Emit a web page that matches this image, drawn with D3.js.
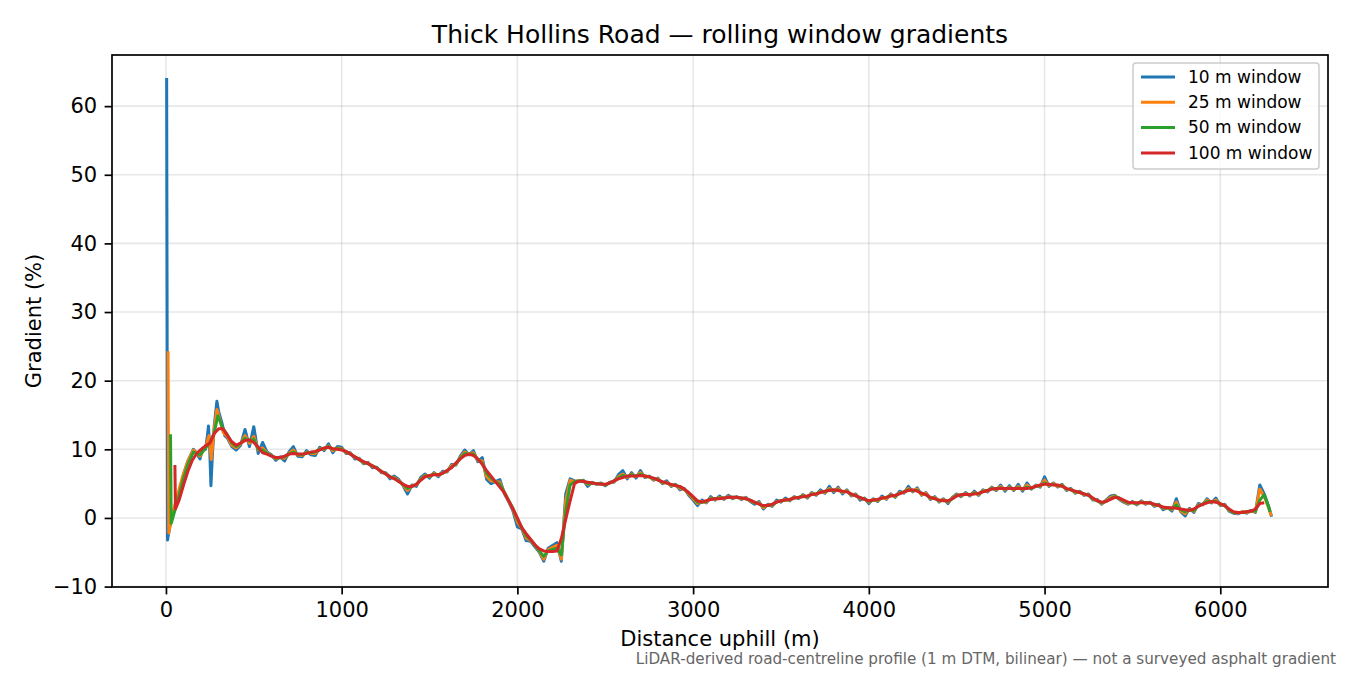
<!DOCTYPE html>
<html>
<head>
<meta charset="utf-8">
<script src="https://cdn.jsdelivr.net/npm/d3@7"></script>
<style>
  body { margin: 0; background: #fff; }
  svg { font-family: "DejaVu Sans", sans-serif; }
</style>
</head>
<body>
<div id="chart"></div>
<script>
// Series labels and colours
const seriesNames = ["10 m window", "25 m window", "50 m window", "100 m window"];
const seriesColors = ["#1f77b4", "#ff7f0e", "#2ca02c", "#d62728"];

// Axis ticks
const xTicks = [0, 1000, 2000, 3000, 4000, 5000, 6000];
const yTicks = [-10, 0, 10, 20, 30, 40, 50, 60];

// Irregular lead-in points near the bottom of the climb [distance, gradient]
const lead10 = [[4, 64.1], [9, -3.2], [20, -1.5], [35, 0.5], [60, 2.3], [80, 4.2], [99, 6.2], [125, 8.3], [156, 10.0], [170, 9.6], [194, 8.6], [210, 10.2], [225, 10.0], [235, 11.8], [242, 13.4], [249, 10.0], [256, 4.7], [265, 9.5], [275, 13.5], [290, 17.0], [300, 15.5], [319, 13.8], [335, 12.0]];
const lead25 = [[12, 24.3], [16, -2.2], [35, 0.3], [60, 2.8], [99, 6.4], [125, 8.3], [156, 9.9], [194, 9.0], [225, 10.3], [245, 12.0], [258, 8.5], [275, 13.0], [290, 15.8], [305, 14.5], [325, 12.5]];
const lead50 = [[26, 12.2], [30, -0.8], [50, 1.0], [75, 3.3], [100, 5.8], [125, 7.8], [156, 9.6], [194, 9.2], [225, 10.2], [250, 11.0], [275, 12.4], [295, 14.9], [325, 13.0]];
const lead100 = [[51, 7.7], [54, 1.3], [75, 2.6], [100, 4.8], [125, 6.8], [150, 8.4], [175, 9.4], [200, 10.0], [225, 10.5], [250, 10.9], [275, 12.3], [300, 13.0], [325, 13.0]];

// Main profile sampled every 25 m from 350 m
const bodyDistance = d3.range(350, 6276, 25);

const grad10 = [
  11.6, 10.4, 9.9, 10.6, 12.9, 10.4, 13.3, 9.4, 11.0, 9.6,
  9.2, 8.4, 8.9, 8.3, 9.6, 10.4, 9.0, 8.9, 9.8, 9.2,
  9.1, 10.3, 9.8, 10.8, 9.5, 10.4, 10.3, 9.4, 9.5, 8.6,
  8.7, 7.9, 8.1, 7.3, 7.4, 6.6, 6.6, 5.7, 6.1, 5.6,
  4.7, 3.5, 4.8, 4.6, 5.9, 6.4, 5.8, 6.6, 6.0, 6.8,
  6.7, 7.8, 7.7, 9.0, 9.9, 9.2, 9.8, 8.2, 8.8, 5.6,
  5.0, 5.3, 5.6, 3.6, 2.4, 1.0, -1.3, -1.6, -3.3, -3.4,
  -4.2, -5.0, -6.3, -4.4, -4.0, -3.6, -6.3, 3.5, 5.7, 5.4,
  5.3, 5.5, 4.6, 5.2, 4.9, 5.1, 4.7, 5.2, 5.2, 6.3,
  6.9, 5.7, 6.6, 5.8, 6.9, 5.9, 6.1, 5.5, 5.8, 5.0,
  5.4, 4.6, 4.9, 4.1, 4.3, 3.3, 2.6, 1.8, 2.6, 2.2,
  3.1, 2.6, 3.2, 2.7, 3.3, 2.8, 3.1, 2.7, 3.0, 2.4,
  2.0, 2.4, 1.3, 2.0, 1.7, 2.6, 2.3, 2.9, 2.5, 3.1,
  2.8, 3.4, 2.9, 3.7, 3.3, 4.1, 3.6, 4.6, 3.7, 4.5,
  3.5, 4.1, 3.2, 3.5, 2.6, 2.9, 2.1, 2.8, 2.4, 3.2,
  2.7, 3.5, 3.0, 3.9, 3.6, 4.6, 3.8, 4.4, 3.3, 3.7,
  2.7, 3.1, 2.3, 2.8, 2.1, 3.0, 3.5, 3.1, 3.7, 3.2,
  3.9, 3.3, 4.1, 3.8, 4.5, 4.0, 4.8, 3.9, 4.7, 4.0,
  4.9, 3.9, 5.1, 4.2, 4.8, 4.5, 6.0, 4.6, 5.1, 4.5,
  4.9, 4.0, 4.3, 3.6, 3.9, 3.3, 3.5, 2.6, 2.7, 2.0,
  2.6, 3.2, 3.3, 2.7, 2.3, 2.0, 2.4, 1.9, 2.5, 2.0,
  2.3, 1.7, 2.0, 1.2, 1.5, 1.0, 2.8, 0.9, 0.3, 1.4,
  0.8, 2.1, 1.9, 2.8, 2.2, 2.9, 1.8, 2.0, 1.0, 0.7,
  0.6, 0.9, 0.7, 1.1, 0.8, 4.8, 3.5, 1.7
];

const grad25 = [
  11.8, 10.6, 10.2, 10.8, 12.0, 10.9, 11.9, 9.9, 10.2, 9.5,
  9.1, 8.6, 8.8, 8.7, 9.4, 9.9, 9.2, 9.1, 9.6, 9.4,
  9.4, 10.1, 10.0, 10.5, 9.8, 10.2, 10.1, 9.5, 9.4, 8.8,
  8.6, 8.0, 8.0, 7.5, 7.3, 6.7, 6.5, 5.9, 5.9, 5.4,
  4.8, 4.0, 4.7, 4.8, 5.7, 6.2, 6.0, 6.5, 6.2, 6.6,
  6.8, 7.6, 7.8, 8.8, 9.6, 9.3, 9.5, 8.4, 8.3, 6.0,
  5.4, 5.3, 5.2, 3.7, 2.5, 1.2, -0.6, -1.5, -2.9, -3.3,
  -4.0, -4.9, -6.0, -4.6, -4.3, -4.0, -6.0, 2.5, 5.5, 5.3,
  5.4, 5.4, 4.9, 5.1, 5.0, 5.0, 4.8, 5.1, 5.3, 6.0,
  6.4, 5.9, 6.4, 6.0, 6.6, 6.0, 6.0, 5.6, 5.7, 5.1,
  5.2, 4.7, 4.8, 4.3, 4.2, 3.5, 2.8, 2.1, 2.4, 2.3,
  2.9, 2.7, 3.0, 2.8, 3.1, 2.9, 3.0, 2.8, 2.9, 2.5,
  2.2, 2.2, 1.5, 1.9, 1.8, 2.4, 2.4, 2.7, 2.6, 3.0,
  2.9, 3.3, 3.0, 3.6, 3.4, 3.9, 3.7, 4.3, 3.9, 4.3,
  3.7, 4.0, 3.3, 3.4, 2.8, 2.8, 2.3, 2.7, 2.5, 3.0,
  2.8, 3.4, 3.1, 3.7, 3.7, 4.3, 3.9, 4.2, 3.4, 3.6,
  2.8, 3.0, 2.4, 2.7, 2.3, 2.9, 3.4, 3.2, 3.6, 3.3,
  3.7, 3.4, 4.0, 3.9, 4.4, 4.1, 4.6, 4.1, 4.5, 4.1,
  4.6, 4.1, 4.8, 4.3, 4.7, 4.6, 5.5, 4.7, 5.0, 4.6,
  4.8, 4.1, 4.2, 3.7, 3.8, 3.4, 3.4, 2.7, 2.6, 2.1,
  2.5, 3.0, 3.2, 2.8, 2.4, 2.1, 2.3, 2.0, 2.4, 2.1,
  2.2, 1.8, 1.9, 1.4, 1.5, 1.2, 2.3, 1.0, 0.6, 1.3,
  1.0, 1.9, 2.0, 2.6, 2.3, 2.6, 1.9, 1.9, 1.1, 0.8,
  0.7, 0.9, 0.8, 1.0, 0.9, 4.2, 3.1, 1.5
];

const grad50 = [
  12.1, 10.9, 10.4, 10.9, 11.6, 11.2, 11.5, 10.0, 9.9, 9.4,
  9.1, 8.7, 8.8, 8.9, 9.3, 9.6, 9.3, 9.2, 9.5, 9.5,
  9.6, 10.0, 10.1, 10.4, 10.0, 10.1, 10.0, 9.6, 9.3, 8.9,
  8.5, 8.1, 7.9, 7.6, 7.3, 6.8, 6.5, 6.0, 5.8, 5.3,
  4.9, 4.3, 4.6, 4.9, 5.6, 6.1, 6.1, 6.4, 6.3, 6.5,
  6.9, 7.4, 7.9, 8.7, 9.4, 9.3, 9.3, 8.5, 8.0, 6.5,
  5.8, 5.3, 4.9, 3.8, 2.6, 1.4, -0.2, -1.4, -2.6, -3.2,
  -4.0, -4.8, -5.6, -4.8, -4.6, -4.4, -5.4, 1.0, 4.8, 5.3,
  5.4, 5.4, 5.0, 5.1, 5.0, 5.0, 4.8, 5.1, 5.4, 5.8,
  6.2, 6.0, 6.3, 6.1, 6.4, 6.1, 6.0, 5.7, 5.6, 5.2,
  5.1, 4.8, 4.8, 4.5, 4.2, 3.6, 3.0, 2.3, 2.3, 2.4,
  2.8, 2.8, 2.9, 2.9, 3.0, 3.0, 3.0, 2.9, 2.8, 2.6,
  2.2, 2.1, 1.7, 1.8, 1.9, 2.3, 2.5, 2.6, 2.7, 2.9,
  3.0, 3.2, 3.1, 3.5, 3.5, 3.8, 3.8, 4.1, 4.0, 4.1,
  3.8, 3.9, 3.4, 3.3, 2.9, 2.8, 2.4, 2.6, 2.6, 2.9,
  3.0, 3.3, 3.2, 3.6, 3.8, 4.1, 4.0, 4.0, 3.6, 3.4,
  2.9, 2.9, 2.5, 2.6, 2.4, 2.8, 3.3, 3.3, 3.5, 3.4,
  3.6, 3.5, 3.9, 4.0, 4.3, 4.2, 4.4, 4.2, 4.4, 4.2,
  4.4, 4.2, 4.5, 4.3, 4.6, 4.7, 5.1, 4.8, 4.9, 4.7,
  4.7, 4.2, 4.1, 3.8, 3.7, 3.5, 3.3, 2.8, 2.5, 2.2,
  2.4, 2.8, 3.1, 2.9, 2.5, 2.2, 2.2, 2.1, 2.3, 2.2,
  2.2, 1.9, 1.9, 1.5, 1.5, 1.3, 1.9, 1.2, 0.9, 1.2,
  1.1, 1.8, 2.0, 2.4, 2.4, 2.4, 2.0, 1.8, 1.2, 0.8,
  0.8, 0.8, 0.9, 1.0, 1.0, 2.6, 3.4, 1.6
];

const grad100 = [
  12.0, 11.1, 10.6, 10.9, 11.3, 11.4, 11.0, 10.3, 9.5, 9.3,
  9.0, 8.8, 8.8, 9.0, 9.3, 9.4, 9.3, 9.3, 9.4, 9.6,
  9.7, 9.9, 10.2, 10.3, 10.1, 10.0, 9.9, 9.7, 9.3, 8.9,
  8.5, 8.2, 7.9, 7.6, 7.2, 6.8, 6.4, 6.0, 5.7, 5.3,
  4.9, 4.6, 4.6, 4.9, 5.5, 6.0, 6.2, 6.3, 6.3, 6.5,
  6.9, 7.3, 8.0, 8.6, 9.1, 9.3, 9.1, 8.6, 7.8, 6.9,
  6.1, 5.3, 4.5, 3.7, 2.5, 1.3, 0.0, -1.4, -2.3, -3.1,
  -3.9, -4.5, -4.8, -4.9, -4.9, -4.8, -3.0, -0.2, 2.5, 5.0,
  5.4, 5.3, 5.2, 5.1, 5.0, 4.9, 4.9, 5.1, 5.4, 5.7,
  5.9, 6.1, 6.1, 6.1, 6.2, 6.1, 6.0, 5.8, 5.5, 5.3,
  5.1, 4.9, 4.7, 4.6, 4.2, 3.7, 3.1, 2.5, 2.3, 2.5,
  2.7, 2.8, 2.8, 2.9, 3.0, 3.0, 3.0, 2.9, 2.8, 2.6,
  2.3, 2.0, 1.8, 1.8, 2.0, 2.3, 2.5, 2.6, 2.7, 2.9,
  3.0, 3.1, 3.2, 3.4, 3.5, 3.7, 3.9, 4.0, 4.1, 4.0,
  3.9, 3.8, 3.5, 3.2, 3.0, 2.7, 2.5, 2.6, 2.7, 2.9,
  3.0, 3.2, 3.3, 3.5, 3.8, 4.0, 4.1, 3.9, 3.6, 3.4,
  3.0, 2.8, 2.6, 2.5, 2.5, 2.8, 3.2, 3.4, 3.4, 3.4,
  3.5, 3.6, 3.8, 4.0, 4.2, 4.3, 4.3, 4.3, 4.3, 4.3,
  4.3, 4.3, 4.3, 4.4, 4.6, 4.8, 4.9, 4.9, 4.8, 4.8,
  4.6, 4.3, 4.1, 3.9, 3.7, 3.5, 3.3, 2.9, 2.5, 2.3,
  2.4, 2.7, 3.0, 2.9, 2.6, 2.3, 2.2, 2.2, 2.2, 2.2,
  2.2, 2.0, 1.8, 1.6, 1.5, 1.5, 1.4, 1.3, 1.2, 1.1,
  1.3, 1.7, 2.0, 2.2, 2.4, 2.3, 2.1, 1.8, 1.3, 0.9,
  0.8, 0.8, 0.9, 1.0, 1.3, 2.1, 2.2
];

// Last points at the top of the climb
const tail10 = [[6292, 0.2]];
const tail25 = [[6290, 0.3]];
const tail50 = [[6283, 0.9]];
const tail100 = [];

const leads = [lead10, lead25, lead50, lead100];
const bodies = [grad10, grad25, grad50, grad100];
const tails = [tail10, tail25, tail50, tail100];

const series = seriesNames.map((name, i) => ({
  name,
  color: seriesColors[i],
  points: leads[i]
    .concat(bodies[i].map((g, j) => [bodyDistance[j], g]))
    .concat(tails[i])
}));

// Chart dimensions (matching the matplotlib figure)
const width = 1350;
const height = 675;
const marginTop = 55;
const marginRight = 22;
const marginBottom = 88;
const marginLeft = 112;

const x = d3.scaleLinear()
    .domain([-307, 6613])
    .range([marginLeft, width - marginRight]);

const y = d3.scaleLinear()
    .domain([-10.06, 67.45])
    .range([height - marginBottom, marginTop]);

const svg = d3.select("#chart").append("svg")
    .attr("width", width)
    .attr("height", height)
    .attr("viewBox", [0, 0, width, height]);

svg.append("rect")
    .attr("width", width)
    .attr("height", height)
    .attr("fill", "#fff");

svg.append("defs").append("clipPath")
    .attr("id", "plot-clip")
  .append("rect")
    .attr("x", marginLeft)
    .attr("y", marginTop)
    .attr("width", width - marginLeft - marginRight)
    .attr("height", height - marginTop - marginBottom);

// Grid
svg.append("g")
    .selectAll("line")
    .data(xTicks)
    .join("line")
      .attr("x1", d => x(d))
      .attr("x2", d => x(d))
      .attr("y1", marginTop)
      .attr("y2", height - marginBottom)
      .attr("stroke", "#b0b0b0")
      .attr("stroke-opacity", 0.3)
      .attr("stroke-width", 1.6);

svg.append("g")
    .selectAll("line")
    .data(yTicks)
    .join("line")
      .attr("x1", marginLeft)
      .attr("x2", width - marginRight)
      .attr("y1", d => y(d))
      .attr("y2", d => y(d))
      .attr("stroke", "#b0b0b0")
      .attr("stroke-opacity", 0.3)
      .attr("stroke-width", 1.6);

// Lines
const line = d3.line()
    .x(d => x(d[0]))
    .y(d => y(d[1]));

svg.append("g")
    .attr("clip-path", "url(#plot-clip)")
    .selectAll("path")
    .data(series)
    .join("path")
      .attr("fill", "none")
      .attr("stroke", d => d.color)
      .attr("stroke-width", 3)
      .attr("stroke-linejoin", "round")
      .attr("stroke-linecap", "butt")
      .attr("d", d => line(d.points));

// Axes
const fmt = d => d3.format("d")(d).replace("-", "\u2212");

svg.append("g")
    .attr("transform", `translate(0,${height - marginBottom})`)
    .call(d3.axisBottom(x).tickValues(xTicks).tickFormat(fmt).tickSize(7.4).tickPadding(7.4))
    .call(g => g.select(".domain").remove())
    .call(g => g.selectAll("line").attr("stroke-width", 1.7))
    .selectAll("text")
      .attr("font-size", "21px")
      .attr("font-family", "DejaVu Sans")
      .attr("fill", "#000");

svg.append("g")
    .attr("transform", `translate(${marginLeft},0)`)
    .call(d3.axisLeft(y).tickValues(yTicks).tickFormat(fmt).tickSize(7.4).tickPadding(7.4))
    .call(g => g.select(".domain").remove())
    .call(g => g.selectAll("line").attr("stroke-width", 1.7))
    .selectAll("text")
      .attr("font-size", "21px")
      .attr("font-family", "DejaVu Sans")
      .attr("fill", "#000");

// Frame
svg.append("rect")
    .attr("x", marginLeft)
    .attr("y", marginTop)
    .attr("width", width - marginLeft - marginRight)
    .attr("height", height - marginTop - marginBottom)
    .attr("fill", "none")
    .attr("stroke", "#000")
    .attr("stroke-width", 1.7);

// Title and labels
svg.append("text")
    .attr("x", (marginLeft + width - marginRight) / 2)
    .attr("y", 43)
    .attr("text-anchor", "middle")
    .style("font-size", "25px")
    .text("Thick Hollins Road \u2014 rolling window gradients");

svg.append("text")
    .attr("x", (marginLeft + width - marginRight) / 2)
    .attr("y", 646)
    .attr("text-anchor", "middle")
    .style("font-size", "21px")
    .text("Distance uphill (m)");

svg.append("text")
    .attr("transform", `translate(41,${(marginTop + height - marginBottom) / 2}) rotate(-90)`)
    .attr("text-anchor", "middle")
    .style("font-size", "21px")
    .text("Gradient (%)");

svg.append("text")
    .attr("x", 1336)
    .attr("y", 664)
    .attr("text-anchor", "end")
    .style("font-size", "15.2px")
    .attr("fill", "#666")
    .text("LiDAR-derived road-centreline profile (1 m DTM, bilinear) \u2014 not a surveyed asphalt gradient");

// Legend
const legend = svg.append("g")
    .attr("transform", "translate(1133,63)");

legend.append("rect")
    .attr("width", 186)
    .attr("height", 106)
    .attr("rx", 3)
    .attr("fill", "#fff")
    .attr("fill-opacity", 0.8)
    .attr("stroke", "#ccc")
    .attr("stroke-width", 1.5);

const item = legend.selectAll(".legend-item")
    .data(series)
    .join("g")
      .attr("transform", (d, i) => `translate(0,${14 + i * 25.3})`);

item.append("line")
    .attr("x1", 8)
    .attr("x2", 42)
    .attr("stroke", d => d.color)
    .attr("stroke-width", 3);

item.append("text")
    .attr("x", 55)
    .attr("y", 5.8)
    .style("font-size", "17px")
    .attr("fill", "#000")
    .text(d => d.name);
</script>
</body>
</html>
